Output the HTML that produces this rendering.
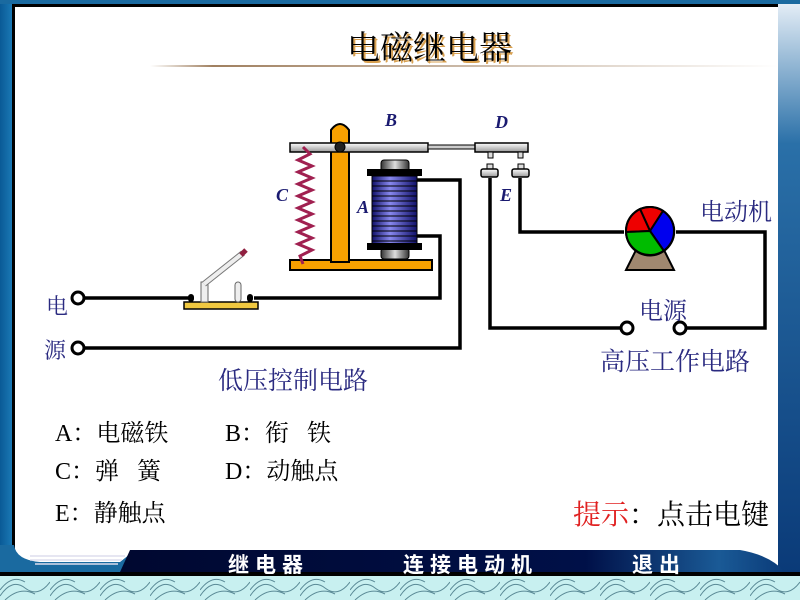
<!DOCTYPE html>
<html><head><meta charset="utf-8"><style>
html,body{margin:0;padding:0;width:800px;height:600px;overflow:hidden;background:#fff}
.t{position:absolute;white-space:nowrap;font-family:"Liberation Serif","Noto Serif CJK SC",serif;line-height:1.15}
.n{position:absolute;white-space:nowrap;font-size:21px;font-weight:bold;color:#fff;letter-spacing:6px;font-family:'Liberation Sans','Noto Sans CJK SC',sans-serif}
</style></head><body>
<svg width="800" height="600" style="position:absolute;left:0;top:0" xmlns="http://www.w3.org/2000/svg">
<defs>
<linearGradient id="lb" x1="0" x2="1"><stop offset="0" stop-color="#0a5a96"/><stop offset="1" stop-color="#1a78b4"/></linearGradient>
<linearGradient id="rb" x1="0" x2="0" y1="0" y2="1"><stop offset="0" stop-color="#e8f0f8"/><stop offset="0.25" stop-color="#2a70a8"/><stop offset="1" stop-color="#0a3a78"/></linearGradient>
<linearGradient id="tl" x1="0" x2="1"><stop offset="0" stop-color="#fff"/><stop offset="0.1" stop-color="#a08060"/><stop offset="1" stop-color="#fff"/></linearGradient>
<linearGradient id="nav" x1="0" x2="1"><stop offset="0" stop-color="#000830"/><stop offset="0.7" stop-color="#001048"/><stop offset="0.9" stop-color="#1a5a96"/><stop offset="1" stop-color="#0a3a78"/></linearGradient>
<linearGradient id="core" x1="0" x2="1"><stop offset="0" stop-color="#333"/><stop offset="0.5" stop-color="#ddd"/><stop offset="1" stop-color="#333"/></linearGradient>
<linearGradient id="coil" x1="0" x2="1"><stop offset="0" stop-color="#10106a"/><stop offset="0.4" stop-color="#8888ee"/><stop offset="1" stop-color="#10106a"/></linearGradient>
<linearGradient id="bar" x1="0" x2="0" y1="0" y2="1"><stop offset="0" stop-color="#fff"/><stop offset="1" stop-color="#999"/></linearGradient>
<pattern id="wave" width="50" height="24" patternUnits="userSpaceOnUse"><rect width="50" height="24" fill="#c8f0f0"/><path d="M0 20 Q12 2 25 12 Q38 22 50 6 M0 14 Q12 -2 25 6 M5 24 Q20 10 35 18" stroke="#5a8a96" fill="none" stroke-width="1"/></pattern>
</defs>
<rect x="0" y="0" width="12" height="575" fill="url(#lb)"/>
<rect x="778" y="0" width="22" height="575" fill="url(#rb)"/>
<rect x="12" y="4" width="766" height="3" fill="#000"/>
<rect x="12" y="4" width="3" height="545" fill="#000"/>
<rect x="0" y="0" width="800" height="4" fill="#1a6aa0"/>
<rect x="0" y="576" width="800" height="24" fill="url(#wave)"/>
<rect x="0" y="572" width="800" height="4" fill="#000"/>
<path d="M0 545 L14 545 Q16 560 40 562 L120 562 L135 550 L200 550 L200 572 L0 572Z" fill="#1a6aa0"/>
<path d="M130 550 L740 550 Q770 555 785 572 L120 572Z" fill="url(#nav)"/>
<path d="M30 556 L125 556 M30 560 L122 560 M35 564 L118 564" stroke="#dde" stroke-width="1.5"/>
<rect x="150" y="65" width="628" height="2" fill="url(#tl)"/>
<g stroke="#000" stroke-width="3.5" fill="none">
<path d="M84 298 L190 298 M254 298 L440 298 L440 236 L417 236"/>
<path d="M84 348 L460 348 L460 180 L417 180"/>
<path d="M490 178 L490 328 L621 328"/>
<path d="M520 178 L520 232 L624 232 M676 232 L765 232 L765 328 L686 328"/>
</g>
<g stroke="#000" stroke-width="3" fill="#fff">
<circle cx="78" cy="298" r="6"/><circle cx="78" cy="348" r="6"/>
<circle cx="627" cy="328" r="6"/><circle cx="680" cy="328" r="6"/>
</g>
<rect x="184" y="302" width="74" height="7" fill="#f0c840" stroke="#000" stroke-width="1.5"/>
<rect x="188" y="294" width="6" height="8" rx="3" fill="#000"/><rect x="247" y="294" width="6" height="8" rx="3" fill="#000"/>
<rect x="201" y="282" width="7" height="20" fill="#eee" stroke="#666"/>
<rect x="235" y="282" width="6" height="20" rx="3" fill="#eee" stroke="#666"/>
<line x1="204" y1="284" x2="243" y2="253" stroke="#777" stroke-width="6"/>
<line x1="204" y1="284" x2="243" y2="253" stroke="#eee" stroke-width="4"/>
<line x1="241" y1="255" x2="246" y2="250" stroke="#902040" stroke-width="5"/>
<rect x="290" y="260" width="142" height="10" fill="#f7a000" stroke="#000" stroke-width="2"/>
<path d="M331 262 L331 130 Q340 118 349 130 L349 262Z" fill="#f7a000" stroke="#000" stroke-width="2"/>
<rect x="290" y="143" width="138" height="9" fill="url(#bar)" stroke="#000" stroke-width="1.5"/>
<rect x="428" y="145" width="48" height="4" fill="#ccc" stroke="#000" stroke-width="1"/>
<rect x="475" y="143" width="53" height="9" fill="url(#bar)" stroke="#000" stroke-width="1.5"/>
<rect x="488" y="152" width="5" height="6" fill="#ddd" stroke="#000"/><rect x="518" y="152" width="5" height="6" fill="#ddd" stroke="#000"/>
<rect x="487" y="164" width="6" height="5" fill="#ddd" stroke="#000"/><rect x="518" y="164" width="6" height="5" fill="#ddd" stroke="#000"/>
<rect x="481" y="169" width="17" height="8" rx="2" fill="url(#bar)" stroke="#000" stroke-width="1.5"/>
<rect x="512" y="169" width="17" height="8" rx="2" fill="url(#bar)" stroke="#000" stroke-width="1.5"/>
<circle cx="340" cy="147" r="5" fill="#222" stroke="#000"/>
<path d="M303 147 L310 154 L298 160 L312 166 L298 172 L312 178 L298 184 L312 190 L298 196 L312 202 L298 208 L312 214 L298 220 L312 226 L298 232 L312 238 L298 244 L312 250 L300 256 L303 264" fill="none" stroke="#a02050" stroke-width="3"/>
<rect x="381" y="160" width="28" height="12" rx="3" fill="url(#core)" stroke="#000"/>
<rect x="381" y="248" width="28" height="11" rx="3" fill="url(#core)" stroke="#000"/>
<rect x="372" y="176" width="45" height="68" fill="url(#coil)" stroke="#000"/>
<g stroke="#000" stroke-width="1">
<line x1="372" y1="181" x2="417" y2="181"/><line x1="372" y1="186" x2="417" y2="186"/><line x1="372" y1="191" x2="417" y2="191"/><line x1="372" y1="196" x2="417" y2="196"/><line x1="372" y1="201" x2="417" y2="201"/><line x1="372" y1="206" x2="417" y2="206"/><line x1="372" y1="211" x2="417" y2="211"/><line x1="372" y1="216" x2="417" y2="216"/><line x1="372" y1="221" x2="417" y2="221"/><line x1="372" y1="226" x2="417" y2="226"/><line x1="372" y1="231" x2="417" y2="231"/><line x1="372" y1="236" x2="417" y2="236"/><line x1="372" y1="241" x2="417" y2="241"/>
</g>
<rect x="367" y="169" width="55" height="7" fill="#000"/>
<rect x="367" y="243" width="55" height="7" fill="#000"/>
<path d="M626 270 L636 250 L664 250 L674 270Z" fill="#a08870" stroke="#000" stroke-width="2"/>
<g stroke="#000" stroke-width="2">
<path d="M650 231 L640 209 A24 24 0 0 1 663 211Z" fill="#e00"/>
<path d="M650 231 L626 232 A24 24 0 0 1 640 209Z" fill="#e00"/>
<path d="M650 231 L663 211 A24 24 0 0 1 664 251Z" fill="#00e"/>
<path d="M650 231 L664 251 A24 24 0 0 1 626 232Z" fill="#0b0"/>
<circle cx="650" cy="231" r="24" fill="none"/>
</g>
</svg>
<div class="t" style="left:347px;top:31px;font-size:33px;color:#000;text-shadow:2px 2px 0 #d8a050">电磁继电器</div>
<div class="t" style="left:385px;top:110px;font-size:18px;font-style:italic;font-weight:bold;color:#1a1a70">B</div>
<div class="t" style="left:495px;top:112px;font-size:18px;font-style:italic;font-weight:bold;color:#1a1a70">D</div>
<div class="t" style="left:276px;top:185px;font-size:18px;font-style:italic;font-weight:bold;color:#1a1a70">C</div>
<div class="t" style="left:357px;top:197px;font-size:18px;font-style:italic;font-weight:bold;color:#1a1a70">A</div>
<div class="t" style="left:500px;top:185px;font-size:18px;font-style:italic;font-weight:bold;color:#1a1a70">E</div>
<div class="t" style="left:700px;top:200px;font-size:24px;color:#2a2a80">电动机</div>
<div class="t" style="left:639px;top:299px;font-size:24px;color:#2a2a80">电源</div>
<div class="t" style="left:600px;top:349px;font-size:25px;color:#2a2a80">高压工作电路</div>
<div class="t" style="left:218px;top:368px;font-size:25px;color:#2a2a80">低压控制电路</div>
<div class="t" style="left:46px;top:294px;font-size:22px;color:#2a2a80">电</div>
<div class="t" style="left:44px;top:338px;font-size:22px;color:#2a2a80">源</div>
<div class="t" style="left:55px;top:421px;font-size:24px;color:#000">A：电磁铁</div>
<div class="t" style="left:225px;top:421px;font-size:24px;color:#000">B：衔&nbsp;&nbsp;&nbsp;铁</div>
<div class="t" style="left:55px;top:459px;font-size:24px;color:#000">C：弹&nbsp;&nbsp;&nbsp;簧</div>
<div class="t" style="left:225px;top:459px;font-size:24px;color:#000">D：动触点</div>
<div class="t" style="left:55px;top:501px;font-size:24px;color:#000">E：静触点</div>
<div class="t" style="left:573px;top:500px;font-size:28px;color:#000"><span style="color:#e02020">提示</span>：点击电键</div>
<div class="n" style="left:228px;top:549px">继电器</div>
<div class="n" style="left:403px;top:549px">连接电动机</div>
<div class="n" style="left:632px;top:549px">退出</div>
</body></html>
